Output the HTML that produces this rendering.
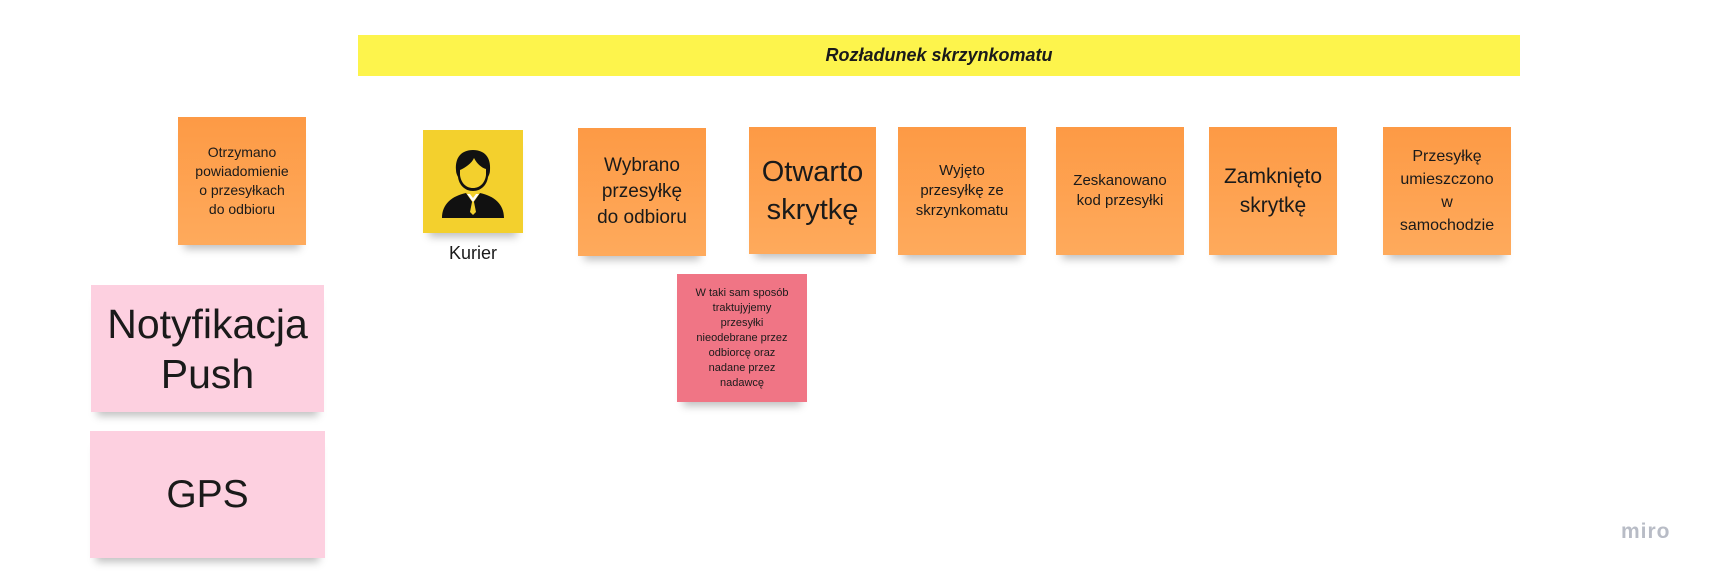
<!DOCTYPE html>
<html><head><meta charset="utf-8"><style>
body{margin:0;width:1717px;height:582px;background:#fff;position:relative;overflow:hidden;font-family:"Liberation Sans",sans-serif;color:#1a1a1a}
.n{position:absolute;display:flex;align-items:center;justify-content:center;text-align:center;box-shadow:0 10px 8px -6px rgba(0,0,0,0.25)}
.o{background:#fea550;background:linear-gradient(#fd9a45,#feaa5c)}
.p{background:#fdd0e0}
.r{background:#f07585}
</style></head><body>
<div style="position:absolute;left:358px;top:35px;width:1162px;height:41px;background:#fdf44c;display:flex;align-items:center;justify-content:center;font-weight:bold;font-style:italic;font-size:18px">Rozładunek skrzynkomatu</div>

<div class="n o" style="left:178px;top:117px;width:128px;height:128px;font-size:14px;line-height:19px">Otrzymano<br>powiadomienie<br>o przesyłkach<br>do odbioru</div>

<div class="n" style="left:423px;top:130px;width:100px;height:103px;background:#f3d02d">
<svg width="70" height="72" viewBox="0 0 70 72"><path d="M35 4c-12 0-18 8-17 20 0 3 1 5 2 7 1 8 7 14 15 14s14-6 15-14c1-2 2-4 2-7 1-12-5-20-17-20z" fill="#111"/><path d="M22 24c5-2 12-7 14-12 3 6 8 10 12 11l0 6c-1 8-6 13-13 13s-12-5-13-13z" fill="#f3d02d"/><path d="M4 72c0-14 10-22 24-25l7 10 7-10c14 3 24 11 24 25z" fill="#111"/><path d="M29 48l6 8 6-8-3 0-3 4-3-4z" fill="#fff"/><path d="M34 56l-2 10 3 3 3-3-2-10z" fill="#f3d02d"/></svg></div>
<div style="position:absolute;left:423px;top:243px;width:100px;text-align:center;font-size:18px">Kurier</div>

<div class="n o" style="left:578px;top:128px;width:128px;height:128px;font-size:19px;line-height:26px">Wybrano<br>przesyłkę<br>do odbioru</div>
<div class="n o" style="left:749px;top:127px;width:127px;height:127px;font-size:29px;line-height:38px">Otwarto<br>skrytkę</div>
<div class="n o" style="left:898px;top:127px;width:128px;height:128px;font-size:15px;line-height:20px">Wyjęto<br>przesyłkę ze<br>skrzynkomatu</div>
<div class="n o" style="left:1056px;top:127px;width:128px;height:128px;font-size:15px;line-height:20px">Zeskanowano<br>kod przesyłki</div>
<div class="n o" style="left:1209px;top:127px;width:128px;height:128px;font-size:21px;line-height:29px">Zamknięto<br>skrytkę</div>
<div class="n o" style="left:1383px;top:127px;width:128px;height:128px;font-size:16px;line-height:23px">Przesyłkę<br>umieszczono<br>w<br>samochodzie</div>

<div class="n r" style="left:677px;top:274px;width:130px;height:128px;font-size:11px;line-height:15px">W taki sam sposób<br>traktujyjemy<br>przesyłki<br>nieodebrane przez<br>odbiorcę oraz<br>nadane przez<br>nadawcę</div>

<div class="n p" style="left:91px;top:285px;width:233px;height:127px;font-size:41px;line-height:50px">Notyfikacja<br>Push</div>
<div class="n p" style="left:90px;top:431px;width:235px;height:127px;font-size:39px">GPS</div>

<div style="position:absolute;left:1621px;top:520px;font-size:21px;color:#b8bcc6;font-weight:bold;letter-spacing:1px">miro</div>
</body></html>
